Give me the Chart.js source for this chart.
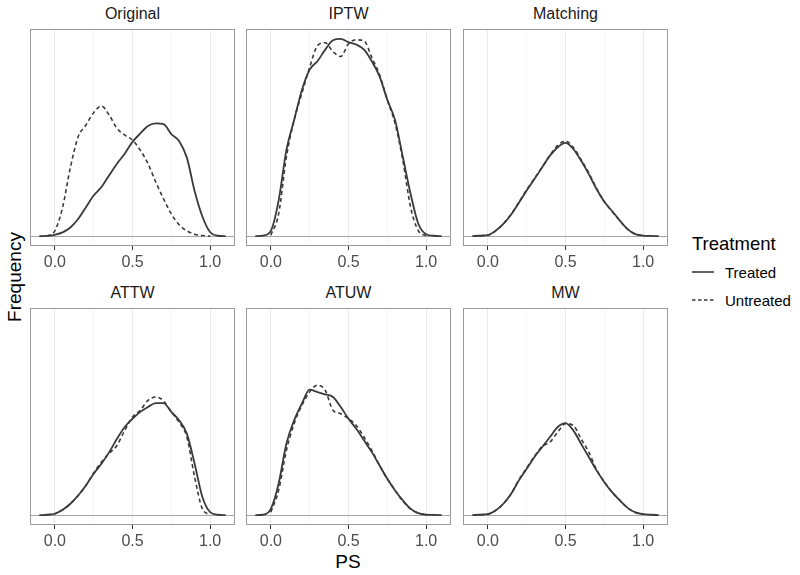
<!DOCTYPE html>
<html>
<head>
<meta charset="utf-8">
<script src="https://cdn.jsdelivr.net/npm/chart.js@4/dist/chart.umd.min.js"></script>
<style>
body { margin: 0; background: #fff; font-family: "Liberation Sans", Arial, sans-serif; }
#wrap { position: relative; width: 800px; height: 575px; overflow: hidden; }
canvas { position: absolute; }
.strip { position: absolute; width: 205px; text-align: center; font-size: 16px; color: #1a1a1a; line-height: 18px; }
.axis-title { position: absolute; font-size: 19px; color: #000; line-height: 20px; }
.legend { position: absolute; left: 692px; top: 233px; color: #000; }
.legend .head { font-size: 18.5px; line-height: 22px; }
.legend .row { height: 28px; display: flex; align-items: center; font-size: 15px; }
.legend svg { margin-right: 11px; }
</style>
</head>
<body>
<div id="wrap">
  <div class="axis-title" style="left:-30px;top:267px;width:90px;text-align:center;transform:rotate(-90deg);">Frequency</div>
  <div class="axis-title" style="left:318px;top:552px;width:60px;text-align:center;">PS</div>
  <div class="legend">
    <div class="head">Treatment</div>
    <div class="row" style="margin-top:3px;"><svg width="22" height="4"><line x1="0" y1="2" x2="22" y2="2" stroke="#3a3a3a" stroke-width="1.6"/></svg>Treated</div>
    <div class="row"><svg width="22" height="4"><line x1="0" y1="2" x2="22" y2="2" stroke="#3a3a3a" stroke-width="1.6" stroke-dasharray="3.5,2.5"/></svg>Untreated</div>
  </div>
</div>
<script>
// PS grid shared by all curves
var psValues = [-0.1, -0.05, 0, 0.05, 0.1, 0.15, 0.2, 0.25, 0.3, 0.35, 0.4, 0.45, 0.5,
                0.55, 0.6, 0.65, 0.7, 0.75, 0.8, 0.85, 0.9, 0.95, 1.0, 1.05, 1.1];

var panelNames = ['Original', 'IPTW', 'Matching', 'ATTW', 'ATUW', 'MW'];
var groupNames = ['Treated', 'Untreated'];
var xTicks = [0, 0.25, 0.5, 0.75, 1.0];
var xTickLabels = ['0.0', '', '0.5', '', '1.0'];

// density curves (common y scale)
var originalTreated   = [0, 0.001, 0.007, 0.019, 0.044, 0.087, 0.147, 0.207, 0.250, 0.310, 0.369, 0.420, 0.480, 0.523, 0.561, 0.574, 0.571, 0.520, 0.485, 0.400, 0.230, 0.100, 0.020, 0.002, 0];
var originalUntreated = [null, 0, 0.027, 0.147, 0.350, 0.506, 0.566, 0.629, 0.663, 0.617, 0.549, 0.515, 0.489, 0.438, 0.369, 0.275, 0.190, 0.113, 0.058, 0.027, 0.010, 0.003, 0, null, null];
var iptwTreated       = [0, 0.003, 0.027, 0.181, 0.438, 0.592, 0.745, 0.848, 0.891, 0.950, 0.998, 1.005, 0.988, 0.976, 0.950, 0.891, 0.814, 0.694, 0.591, 0.403, 0.215, 0.062, 0.010, 0.002, 0];
var iptwUntreated     = [null, null, 0.005, 0.113, 0.403, 0.592, 0.728, 0.860, 0.970, 0.985, 0.940, 0.915, 0.980, 1.000, 0.995, 0.910, 0.822, 0.694, 0.574, 0.386, 0.147, 0.027, 0.002, null, null];
var matchingTreated   = [0, 0.002, 0.005, 0.027, 0.062, 0.110, 0.170, 0.232, 0.291, 0.351, 0.410, 0.453, 0.475, 0.444, 0.385, 0.316, 0.240, 0.175, 0.128, 0.079, 0.036, 0.010, 0.003, 0.001, 0];
var matchingUntreated = [null, 0.002, 0.005, 0.027, 0.063, 0.112, 0.172, 0.236, 0.294, 0.352, 0.412, 0.462, 0.485, 0.452, 0.390, 0.322, 0.243, 0.176, 0.126, 0.078, 0.035, 0.010, 0.003, null, null];
var attwTreated       = [0, 0.002, 0.007, 0.027, 0.058, 0.100, 0.151, 0.211, 0.262, 0.321, 0.389, 0.449, 0.491, 0.526, 0.551, 0.571, 0.571, 0.526, 0.483, 0.415, 0.262, 0.092, 0.015, 0.002, 0];
var attwUntreated     = [null, 0.002, 0.007, 0.027, 0.058, 0.100, 0.151, 0.215, 0.270, 0.315, 0.355, 0.432, 0.500, 0.534, 0.585, 0.602, 0.582, 0.526, 0.474, 0.398, 0.194, 0.032, 0.002, null, null];
var atuwTreated       = [0, 0.002, 0.032, 0.160, 0.364, 0.483, 0.568, 0.639, 0.627, 0.615, 0.602, 0.551, 0.491, 0.440, 0.381, 0.321, 0.253, 0.185, 0.126, 0.075, 0.032, 0.010, 0.002, 0.001, 0];
var atuwUntreated     = [null, null, 0.015, 0.126, 0.330, 0.466, 0.560, 0.628, 0.662, 0.636, 0.534, 0.517, 0.491, 0.457, 0.398, 0.330, 0.253, 0.185, 0.126, 0.071, 0.032, 0.010, 0.002, null, null];
var mwTreated         = [0, 0.002, 0.005, 0.024, 0.058, 0.109, 0.177, 0.236, 0.296, 0.347, 0.398, 0.449, 0.469, 0.432, 0.364, 0.296, 0.228, 0.168, 0.117, 0.075, 0.037, 0.014, 0.005, 0.002, 0];
var mwUntreated       = [null, 0.002, 0.005, 0.024, 0.058, 0.109, 0.180, 0.240, 0.300, 0.350, 0.372, 0.423, 0.466, 0.457, 0.389, 0.321, 0.232, 0.170, 0.117, 0.075, 0.037, 0.014, 0.005, null, null];

var panelSeries = [
    [originalTreated, originalUntreated],
    [iptwTreated, iptwUntreated],
    [matchingTreated, matchingUntreated],
    [attwTreated, attwUntreated],
    [atuwTreated, atuwUntreated],
    [mwTreated, mwUntreated]
];

// layout of the facets
var colLefts = [30, 246, 463];
var rowTops = [29, 308];
var panelW = 205;
var panelH = 217;
var tickArea = 30;

// shared y range, padded like ggplot
var yMax = 0;
panelSeries.forEach(function(pair) {
    pair.forEach(function(s) {
        s.forEach(function(v) { if (v !== null && v > yMax) yMax = v; });
    });
});

function toPoints(values) {
    return values.map(function(v, i) { return {x: psValues[i], y: v}; });
}

// gray zero line and panel frame
var panelDecor = {
    id: 'panelDecor',
    beforeDatasetsDraw: function(chart) {
        var ctx = chart.ctx, a = chart.chartArea;
        var y0 = Math.round(chart.scales.y.getPixelForValue(0)) + 0.5;
        ctx.save();
        ctx.strokeStyle = '#a6a6a6';
        ctx.lineWidth = 1;
        ctx.beginPath();
        ctx.moveTo(a.left, y0);
        ctx.lineTo(a.right, y0);
        ctx.stroke();
        ctx.restore();
    },
    afterDraw: function(chart) {
        var ctx = chart.ctx, a = chart.chartArea;
        ctx.save();
        ctx.strokeStyle = '#9a9a9a';
        ctx.lineWidth = 1;
        ctx.strokeRect(a.left + 0.5, a.top + 0.5, a.right - a.left - 1, a.bottom - a.top - 1);
        ctx.restore();
    }
};

var wrap = document.getElementById('wrap');

panelNames.forEach(function(name, p) {
    var left = colLefts[p % 3];
    var top = rowTops[Math.floor(p / 3)];

    var strip = document.createElement('div');
    strip.className = 'strip';
    strip.style.left = left + 'px';
    strip.style.top = (top - 24) + 'px';
    strip.textContent = name;
    wrap.appendChild(strip);

    var canvas = document.createElement('canvas');
    canvas.width = panelW;
    canvas.height = panelH + tickArea;
    canvas.style.left = left + 'px';
    canvas.style.top = top + 'px';
    wrap.appendChild(canvas);

    new Chart(canvas, {
        type: 'line',
        data: {
            datasets: [{
                label: groupNames[0],
                data: toPoints(panelSeries[p][0]),
                borderColor: '#3a3a3a',
                borderWidth: 1.8,
                pointRadius: 0,
                cubicInterpolationMode: 'monotone',
                fill: false
            }, {
                label: groupNames[1],
                data: toPoints(panelSeries[p][1]),
                borderColor: '#3a3a3a',
                borderWidth: 1.6,
                borderDash: [4, 3],
                pointRadius: 0,
                cubicInterpolationMode: 'monotone',
                fill: false
            }]
        },
        options: {
            responsive: false,
            animation: false,
            layout: { padding: 0 },
            plugins: {
                legend: { display: false },
                tooltip: { enabled: false }
            },
            scales: {
                x: {
                    type: 'linear',
                    min: -0.16,
                    max: 1.16,
                    afterBuildTicks: function(scale) {
                        scale.ticks = xTicks.map(function(v) { return {value: v}; });
                    },
                    afterFit: function(scale) { scale.height = tickArea; },
                    border: { display: false },
                    grid: {
                        drawOnChartArea: true,
                        tickLength: 4,
                        color: function(c) {
                            return xTickLabels[c.index] ? '#ebebeb' : '#f5f5f5';
                        },
                        tickColor: function(c) {
                            return xTickLabels[c.index] ? '#333333' : 'rgba(0,0,0,0)';
                        }
                    },
                    ticks: {
                        autoSkip: false,
                        maxRotation: 0,
                        padding: 3,
                        color: '#4d4d4d',
                        font: { family: '"Liberation Sans", Arial, sans-serif', size: 16 },
                        callback: function(value, index) { return xTickLabels[index]; }
                    }
                },
                y: {
                    display: false,
                    min: -0.05 * yMax,
                    max: 1.05 * yMax
                }
            }
        },
        plugins: [panelDecor]
    });
});
</script>
</body>
</html>
